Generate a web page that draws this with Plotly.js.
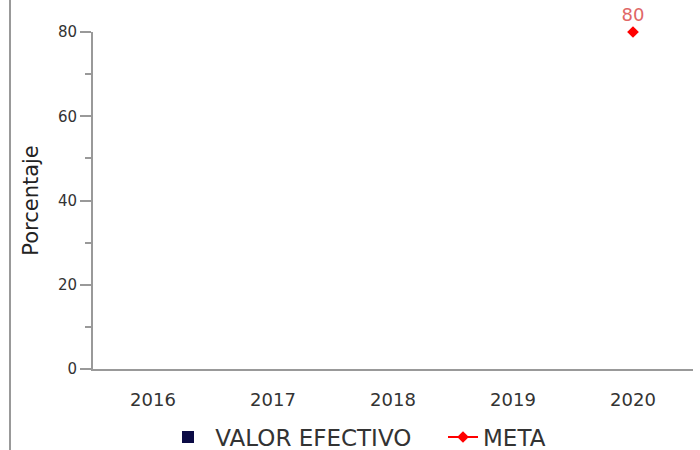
<!DOCTYPE html>
<html><head><meta charset="utf-8">
<script src="https://cdn.plot.ly/plotly-3.0.1.min.js"></script>
<style>body{margin:0;background:#fff}#c{width:700px;height:450px}</style>
</head><body><div id="c"></div>
<script>
var years = ['2016','2017','2018','2019','2020'];
var valorEfectivo = [null, null, null, null, null];
var meta = [null, null, null, null, 80];
var metaLabels = ['', '', '', '', '80'];

var traces = [
  {type:'bar', name:' VALOR EFECTIVO', x:years, y:valorEfectivo,
   marker:{color:'#0b0b45'}},
  {type:'scatter', mode:'lines+markers+text', name:'META', x:years, y:meta,
   text:metaLabels, textposition:'top center', cliponaxis:false,
   textfont:{color:'#e06666', size:18, family:'DejaVu Sans'},
   line:{color:'#ff0000', width:2},
   marker:{symbol:'diamond', size:9, color:'#ff0000'}}
];
var layout = {
  width:700, height:450,
  margin:{l:93, r:7, t:32, b:81, autoexpand:false},
  paper_bgcolor:'#fff', plot_bgcolor:'#fff',
  font:{family:'DejaVu Sans', color:'#333'},
  showlegend:true,
  legend:{orientation:'h', x:(168-93)/600, xanchor:'left', y:-0.202, yanchor:'middle',
          font:{size:23, color:'#333'}, itemwidth:30, entrywidth:230},
  xaxis:{type:'category', range:[-0.5,4.5], showline:true, linecolor:'#999', linewidth:2,
         showgrid:false, zeroline:false, ticks:'outside', ticklen:13, tickcolor:'rgba(0,0,0,0)',
         tickfont:{size:18, color:'#333'}},
  yaxis:{range:[0,80], showline:true, linecolor:'#999', linewidth:2, showgrid:false, zeroline:false,
         tickvals:[0,20,40,60,80], ticks:'outside', ticklen:11, tickcolor:'#999', tickwidth:2,
         minor:{tickvals:[10,30,50,70], ticks:'outside', ticklen:6, tickcolor:'#999', tickwidth:2},
         tickfont:{size:15, color:'#333'}, automargin:true,
         title:{text:'Porcentaje', font:{size:21, color:'#222'}, standoff:14}},
  shapes:[{type:'line', xref:'paper', yref:'paper', x0:(10-93)/600, x1:(10-93)/600, y0:-81/337, y1:32/337+1,
           line:{color:'#999', width:2}}]
};
Plotly.newPlot('c', traces, layout, {displayModeBar:false});
</script></body></html>
